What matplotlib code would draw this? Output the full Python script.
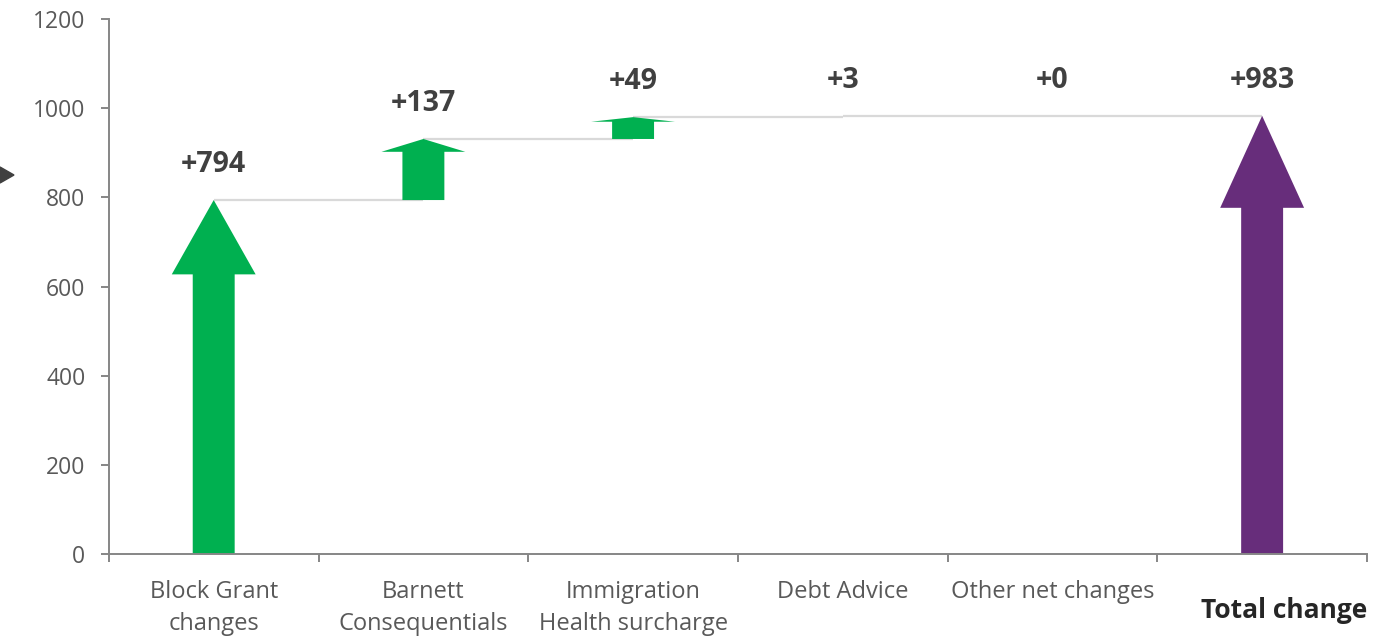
import matplotlib.pyplot as plt
from matplotlib.patches import FancyArrow, Polygon

plt.rcParams['font.family'] = ['Open Sans', 'DejaVu Sans']

# data
categories = ['Block Grant\nchanges', 'Barnett\nConsequentials', 'Immigration\nHealth surcharge',
              'Debt Advice', 'Other net changes', '']
changes = [794, 137, 49, 3, 0]
total = 983
labels = ['+794', '+137', '+49', '+3', '+0', '+983']

green = '#00B050'
purple = '#672D7B'
axis_grey = '#868686'
text_grey = '#595959'
label_grey = '#404040'

fig = plt.figure(figsize=(13.78, 6.36), dpi=100)
ax = fig.add_axes([0.079, 0.129, 0.913, 0.841])

# running totals
bases = []
tops = []
run = 0
for v in changes:
    bases.append(run)
    run += v
    tops.append(run)
bases.append(0)
tops.append(total)
values = changes + [total]

# connector lines
for i in range(len(changes)):
    ax.plot([i, i + 1], [tops[i], tops[i]], color='#D9D9D9', lw=1.6, zorder=1,
            solid_capstyle='butt')

# arrows (very small changes are not drawn, as in the original)
for i, v in enumerate(values):
    if v < 10:
        continue
    color = purple if i == len(values) - 1 else green
    arr = FancyArrow(i, bases[i], 0, v, width=0.2, head_width=0.4,
                     head_length=0.21 * v, length_includes_head=True,
                     color=color, lw=0, zorder=2)
    ax.add_patch(arr)

# value labels
for i, lab in enumerate(labels):
    ax.text(i, tops[i] + 80, lab, ha='center', va='center', fontsize=20.5,
            fontweight='bold', color=label_grey)

ax.set_xlim(-0.5, len(values) - 0.5)
ax.set_ylim(0, 1200)
ax.set_yticks(range(0, 1201, 200))
ax.set_xticks(range(len(values)))
ax.set_xticklabels(categories, linespacing=1.45)
ax.set_xticks([i - 0.5 for i in range(len(values) + 1)], minor=True)

for s in ['top', 'right']:
    ax.spines[s].set_visible(False)
for s in ['left', 'bottom']:
    ax.spines[s].set_color(axis_grey)
    ax.spines[s].set_linewidth(1.4)

ax.tick_params(axis='y', length=6, width=1.4, color=axis_grey, labelcolor=text_grey,
               labelsize=16.5, pad=11)
ax.tick_params(axis='x', which='major', length=0, labelcolor=text_grey, labelsize=17, pad=19)
ax.tick_params(axis='x', which='minor', length=6, width=1.4, color=axis_grey)

fig.text(0.992, 1 - 610 / 636, 'Total change', ha='right', va='center', fontsize=19,
         fontweight='bold', color='#262626')

# small marker at left edge
fig.patches.append(Polygon([[0, 1 - 167 / 636], [14 / 1378, 1 - 175 / 636], [0, 1 - 183 / 636]],
                           closed=True, transform=fig.transFigure, color='#404040'))

fig.savefig('out.png', dpi=100)
